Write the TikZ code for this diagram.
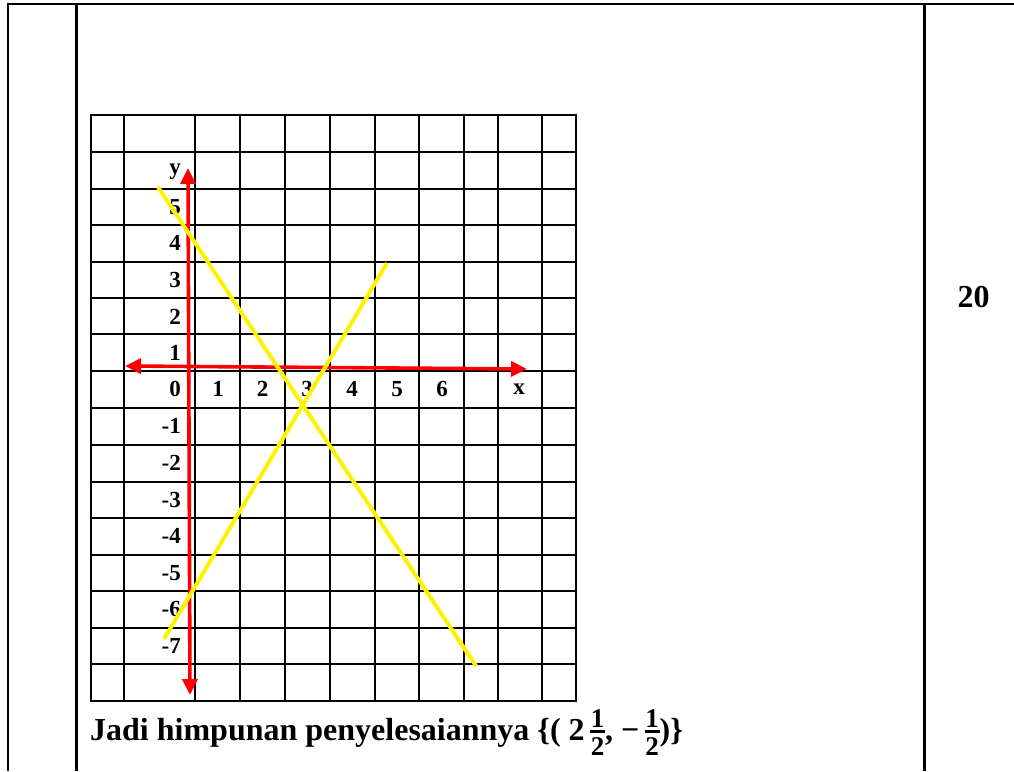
\documentclass[tikz,border=0pt]{standalone}
\usepackage{fontspec}
\setmainfont{Liberation Serif}
\usepackage{tikz}
\usetikzlibrary{arrows.meta}
% one half, stacked by hand
\newcommand{\halffrac}{{\fontsize{27}{27}\selectfont%
  \rlap{\raisebox{13pt}{\makebox[15pt]{1}}}%
  \rlap{\rule[7.5pt]{15pt}{3pt}}%
  \raisebox{-15pt}{\makebox[15pt]{2}}}}
\tikzset{
  tableline/.style={line width=2.8pt},
  gridline/.style={line width=1.6pt},
  gridframe/.style={line width=2.2pt},
  redaxis/.style={
    {Triangle[length=16pt,width=15pt]}-{Triangle[length=16pt,width=15pt]},
    red,
    line width=3.6pt
  },
  solline/.style={yellow,line width=4pt},
  ticklabel/.style={
    inner sep=0pt,
    font=\fontsize{23}{23}\selectfont\bfseries
  },
  bigtext/.style={
    inner sep=0pt,
    font=\fontsize{32}{32}\selectfont\bfseries
  }
}

\begin{document}
\begin{tikzpicture}[x=1pt,y=-1pt]
\useasboundingbox (0,0) rectangle (1014,771);

% table
\draw[tableline] (8,771) -- (8,4) -- (1014,4);
\draw[tableline] (76.5,4) -- (76.5,771);
\draw[tableline] (924.7,4) -- (924.7,771);

% grid
\foreach \gx in {124,195,240,285,330,375,419,464,498,542}
  \draw[gridline] (\gx,115) -- (\gx,701);
\foreach \gy in {152,189,225,262,298,334,371,408,445,482,518,555,591,628,664}
  \draw[gridline] (91,\gy) -- (576,\gy);
\draw[gridframe] (91,115) rectangle (576,701);

% labels on the y axis
\node[ticklabel,anchor=east] (ylab) at (181,172) {y};
\node[ticklabel,anchor=east] (y5) at (181,207) {5};
\node[ticklabel,anchor=east] (y4) at (181,243) {4};
\node[ticklabel,anchor=east] (y3) at (181,280) {3};
\node[ticklabel,anchor=east] (y2) at (181,316.5) {2};
\node[ticklabel,anchor=east] (y1) at (181,353) {1};
\node[ticklabel,anchor=east] (y0) at (181,389) {0};
\node[ticklabel,anchor=east] (ym1) at (181,426) {-1};
\node[ticklabel,anchor=east] (ym2) at (181,463) {-2};
\node[ticklabel,anchor=east] (ym3) at (181,500) {-3};
\node[ticklabel,anchor=east] (ym4) at (181,536) {-4};
\node[ticklabel,anchor=east] (ym5) at (181,573) {-5};
\node[ticklabel,anchor=east] (ym6) at (181,609) {-6};
\node[ticklabel,anchor=east] (ym7) at (181,646) {-7};

% labels on the x axis
\node[ticklabel] (x1) at (218,389) {1};
\node[ticklabel] (x2) at (262.5,389) {2};
\node[ticklabel] (x3) at (307,389) {3};
\node[ticklabel] (x4) at (352,389) {4};
\node[ticklabel] (x5) at (397,389) {5};
\node[ticklabel] (x6) at (442,389) {6};
\node[ticklabel] (xlab) at (519,389) {x};

% axes
\coordinate (xleft) at (125,366);
\coordinate (xright) at (527,369);
\coordinate (ytop) at (188,168);
\coordinate (ybottom) at (190,695);
\draw[redaxis] (xleft) -- (xright);
\draw[redaxis] (ytop) -- (ybottom);

% the two lines
\coordinate (fallstart) at (158,187);
\coordinate (fallend) at (476,666);
\coordinate (risestart) at (164,639);
\coordinate (riseend) at (387,263);
\draw[solline] (fallstart) -- (fallend);
\draw[solline] (risestart) -- (riseend);

% answer and score
\node[bigtext,anchor=base west] (answer) at (90,740)
  {Jadi himpunan penyelesaiannya \{( 2\,\halffrac, −\,\halffrac)\}};
\node[bigtext] (score) at (973.5,297) {20};
\end{tikzpicture}
\end{document}
